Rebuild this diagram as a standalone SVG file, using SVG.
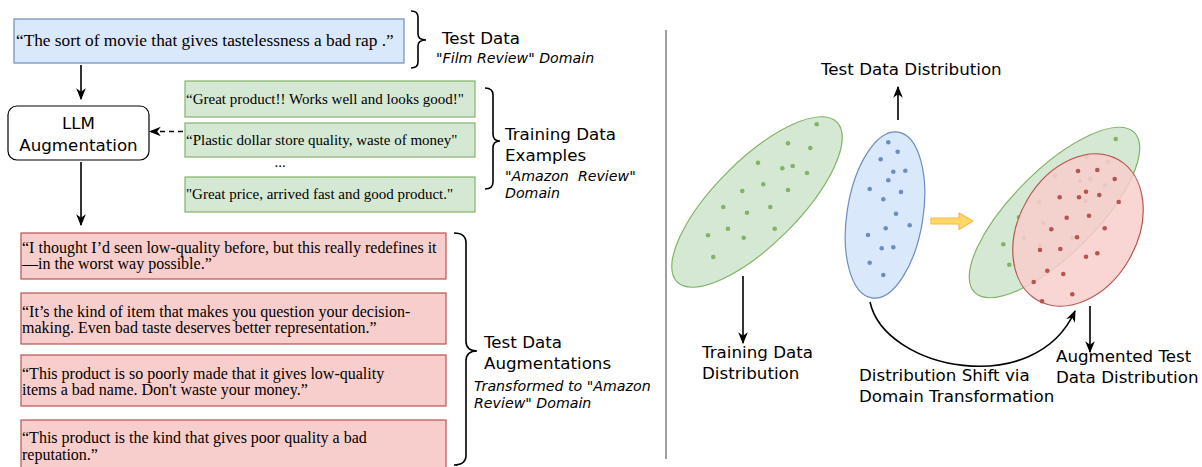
<svg xmlns="http://www.w3.org/2000/svg" width="1202" height="467" viewBox="0 0 1202 467">
  <style>
    .serif { font-family: "Liberation Serif", "Times New Roman", serif; fill: #000; }
    .sans { font-family: "DejaVu Sans", Verdana, sans-serif; fill: #000; font-size: 16.7px; }
    .ital { font-family: "DejaVu Sans", Verdana, sans-serif; font-style: italic; font-size: 14.2px; fill: #000; }
    .blue { fill: #dae8fc; stroke: #6c8ebf; stroke-width: 1.2; }
    .green { fill: #d5e8d4; stroke: #82b366; stroke-width: 1.2; }
    .red { fill: #f8cecc; stroke: #b85450; stroke-width: 1.2; }
    .edge { fill: none; stroke: #000; stroke-width: 1.6; }
    .brace { fill: none; stroke: #000; stroke-width: 1.6; }
    .gdot { fill: #82b366; }
    .bdot { fill: #6c8ebf; }
    .rdot { fill: #b85450; }
  </style>
  <defs>
    <marker id="arrow" markerUnits="userSpaceOnUse" markerWidth="12" markerHeight="12" viewBox="0 0 10 10" refX="9" refY="5" orient="auto">
      <path d="M0,1 L10,5 L0,9 L3,5 z" fill="#000"/>
    </marker>
  </defs>

  <!-- left panel: pipeline -->
  <g id="test-sample">
    <rect class="blue" x="14" y="19" width="390" height="44"/>
    <text class="serif" x="16" y="46" font-size="17.3">“The sort of movie that gives tastelessness a bad rap .”</text>
  </g>
  <g id="test-brace">
    <path class="brace" d="M411,11 Q418,11 418,17 L418,34 Q418,40 426,40 Q418,40 418,46 L418,62 Q418,68 411,68"/>
    <text class="sans" x="442" y="44">Test Data</text>
    <text class="ital" x="436" y="63">"Film Review" Domain</text>
  </g>

  <g id="llm">
    <rect x="8" y="106" width="141" height="54" rx="9" fill="#fff" stroke="#000" stroke-width="1.2"/>
    <text class="sans" x="78.5" y="129" font-size="17.5" text-anchor="middle">LLM</text>
    <text class="sans" x="78.5" y="151" font-size="17.5" text-anchor="middle">Augmentation</text>
  </g>

  <g id="train-examples">
    <rect class="green" x="185" y="81" width="290" height="36"/>
    <text class="serif" x="186" y="104" font-size="15">“Great product!! Works well and looks good!"</text>
    <rect class="green" x="185" y="123" width="290" height="34"/>
    <text class="serif" x="186" y="145" font-size="15">“Plastic dollar store quality, waste of money"</text>
    <text class="serif" x="280" y="167" font-size="15" text-anchor="middle">...</text>
    <rect class="green" x="185" y="177" width="290" height="35"/>
    <text class="serif" x="186" y="199" font-size="15">"Great price, arrived fast and good product."</text>
  </g>
  <g id="train-brace">
    <path class="brace" d="M485,88 Q493,88 493,95 L493,134 Q493,141 500,141 Q493,141 493,148 L493,182 Q493,189 485,189"/>
    <text class="sans" x="505" y="140">Training Data</text>
    <text class="sans" x="505" y="161">Examples</text>
    <text class="ital" x="505" y="181" xml:space="preserve">"Amazon  Review"</text>
    <text class="ital" x="505" y="198">Domain</text>
  </g>

  <g id="augmentations">
    <rect class="red" x="21" y="233" width="425" height="46"/>
    <text class="serif" x="22" y="253" font-size="16">“I thought I’d seen low-quality before, but this really redefines it</text>
    <text class="serif" x="22" y="269" font-size="16">—in the worst way possible.”</text>
    <rect class="red" x="21" y="293" width="425" height="51"/>
    <text class="serif" x="22" y="316.5" font-size="16">“It’s the kind of item that makes you question your decision-</text>
    <text class="serif" x="22" y="333" font-size="16">making. Even bad taste deserves better representation.”</text>
    <rect class="red" x="21" y="355" width="425" height="51"/>
    <text class="serif" x="22" y="378.5" font-size="16">“This product is so poorly made that it gives low-quality</text>
    <text class="serif" x="22" y="395" font-size="16">items a bad name. Don't waste your money.”</text>
    <rect class="red" x="21" y="420" width="425" height="52"/>
    <text class="serif" x="22" y="443" font-size="16">“This product is the kind that gives poor quality a bad</text>
    <text class="serif" x="22" y="459.5" font-size="16">reputation.”</text>
  </g>
  <g id="aug-brace">
    <path class="brace" d="M454,233 Q466,233 466,243 L466,341 Q466,351 477,351 Q466,351 466,361 L466,455 Q466,465 454,465"/>
    <text class="sans" x="484" y="348">Test Data</text>
    <text class="sans" x="484" y="369">Augmentations</text>
    <text class="ital" x="474" y="391">Transformed to "Amazon</text>
    <text class="ital" x="474" y="408">Review" Domain</text>
  </g>

  <!-- separator -->
  <line x1="666" y1="30" x2="666" y2="459" stroke="#a0a0a0" stroke-width="2"/>

  <!-- right panel: distributions -->
  <g id="train-dist">
    <ellipse class="green" cx="757" cy="202" rx="113" ry="42" transform="rotate(-45 757 202)"/>
    <g class="gdot">
      <circle cx="816.7" cy="124.3" r="2.3"/><circle cx="788" cy="143.3" r="2.3"/>
      <circle cx="810.3" cy="148" r="2.3"/><circle cx="758" cy="162.7" r="2.3"/>
      <circle cx="782.3" cy="168.3" r="2.3"/><circle cx="792.7" cy="166" r="2.3"/>
      <circle cx="807" cy="173" r="2.3"/><circle cx="763.3" cy="184.3" r="2.3"/>
      <circle cx="742.3" cy="191" r="2.3"/><circle cx="788" cy="190" r="2.3"/>
      <circle cx="723.3" cy="207" r="2.3"/><circle cx="747" cy="212.7" r="2.3"/>
      <circle cx="770.3" cy="207" r="2.3"/><circle cx="708" cy="235.3" r="2.3"/>
      <circle cx="728" cy="228.7" r="2.3"/><circle cx="743.7" cy="237.7" r="2.3"/>
      <circle cx="774.7" cy="228.7" r="2.3"/><circle cx="713.3" cy="257" r="2.3"/>
    </g>
    <text class="sans" x="702" y="358">Training Data</text>
    <text class="sans" x="702" y="379">Distribution</text>
  </g>

  <g id="test-dist">
    <ellipse class="blue" cx="885" cy="215" rx="38" ry="84" transform="rotate(9 885 215)"/>
    <g class="bdot">
      <circle cx="888.3" cy="142.3" r="2.3"/><circle cx="897.7" cy="151.7" r="2.3"/>
      <circle cx="880.7" cy="159.3" r="2.3"/><circle cx="893.3" cy="171.7" r="2.3"/>
      <circle cx="905.3" cy="170.7" r="2.3"/><circle cx="888.3" cy="180.3" r="2.3"/>
      <circle cx="869.7" cy="189" r="2.3"/><circle cx="901" cy="192" r="2.3"/>
      <circle cx="883.3" cy="199.3" r="2.3"/><circle cx="896" cy="213.7" r="2.3"/>
      <circle cx="909.7" cy="225.3" r="2.3"/><circle cx="885.7" cy="228.3" r="2.3"/>
      <circle cx="868" cy="235" r="2.3"/><circle cx="881.7" cy="248.3" r="2.3"/>
      <circle cx="893.3" cy="247.3" r="2.3"/><circle cx="869.7" cy="262.7" r="2.3"/>
      <circle cx="883.3" cy="275" r="2.3"/>
    </g>
    <text class="sans" x="821" y="75">Test Data Distribution</text>
  </g>

  <g id="shift-arrow">
    <path d="M931,218 L959,218 L959,213 L973,221 L959,229.5 L959,224 L931,224 z" fill="#ffd966" stroke="#f7b955" stroke-width="1.2" stroke-linejoin="round"/>
  </g>

  <g id="aug-dist">
    <ellipse class="green" cx="1054.5" cy="212.5" rx="113" ry="42" transform="rotate(-45 1054.5 212.5)"/>
    <g class="gdot">
      <circle cx="1115.7" cy="139" r="2.3"/><circle cx="1019" cy="217.3" r="2.3"/>
      <circle cx="1003.3" cy="244.3" r="2.3"/><circle cx="1009.3" cy="264.7" r="2.3"/>
      <circle cx="1086.3" cy="157.3" r="2.3"/><circle cx="1108.3" cy="161.7" r="2.3"/>
      <circle cx="1055" cy="175.7" r="2.3"/><circle cx="1080" cy="181" r="2.3"/>
      <circle cx="1090.3" cy="179" r="2.3"/><circle cx="1105" cy="185.3" r="2.3"/>
      <circle cx="1085.7" cy="201.3" r="2.3"/><circle cx="1039" cy="202.3" r="2.3"/>
      <circle cx="1043.3" cy="223.3" r="2.3"/><circle cx="1024" cy="238" r="2.3"/>
      <circle cx="1072" cy="238" r="2.3"/><circle cx="1040" cy="245.7" r="2.3"/>
    </g>
    <ellipse cx="1078" cy="230" rx="59" ry="81" transform="rotate(30 1078 230)" fill="#f8cecc" fill-opacity="0.85" stroke="#b85450" stroke-width="1.2"/>
    <g class="rdot">
      <circle cx="1078" cy="171" r="2.3"/><circle cx="1097.3" cy="170" r="2.3"/>
      <circle cx="1114.7" cy="179" r="2.3"/><circle cx="1086" cy="191.7" r="2.3"/>
      <circle cx="1059.7" cy="197.3" r="2.3"/><circle cx="1079" cy="197.3" r="2.3"/>
      <circle cx="1099.3" cy="195" r="2.3"/><circle cx="1118.7" cy="202" r="2.3"/>
      <circle cx="1089" cy="215.7" r="2.3"/><circle cx="1066.7" cy="217.7" r="2.3"/>
      <circle cx="1051.3" cy="229.3" r="2.3"/><circle cx="1104.7" cy="228.3" r="2.3"/>
      <circle cx="1077" cy="237.3" r="2.3"/><circle cx="1040" cy="250" r="2.3"/>
      <circle cx="1060.3" cy="249" r="2.3"/><circle cx="1086" cy="256.7" r="2.3"/>
      <circle cx="1097.3" cy="253.3" r="2.3"/><circle cx="1047.3" cy="270.7" r="2.3"/>
      <circle cx="1063.3" cy="274" r="2.3"/><circle cx="1033.7" cy="282" r="2.3"/>
      <circle cx="1072.3" cy="294.3" r="2.3"/><circle cx="1042" cy="301.3" r="2.3"/>
    </g>
    <text class="sans" x="1056" y="362">Augmented Test</text>
    <text class="sans" x="1056" y="383">Data Distribution</text>
  </g>

  <text class="sans" x="859" y="381">Distribution Shift via</text>
  <text class="sans" x="859" y="402">Domain Transformation</text>

  <!-- connectors -->
  <g id="connectors">
    <line class="edge" x1="81" y1="65" x2="81" y2="99" marker-end="url(#arrow)"/>
    <line class="edge" x1="183" y1="131.5" x2="150" y2="131.5" stroke-dasharray="5 4" marker-end="url(#arrow)"/>
    <line class="edge" x1="81" y1="162" x2="81" y2="225" marker-end="url(#arrow)"/>
    <line class="edge" x1="898" y1="120" x2="898" y2="87" marker-end="url(#arrow)"/>
    <line class="edge" x1="743" y1="276" x2="743" y2="343" marker-end="url(#arrow)"/>
    <line class="edge" x1="1090" y1="306" x2="1090" y2="352" marker-end="url(#arrow)"/>
    <path class="edge" d="M870,302 C885,370 1035,400 1075,311" marker-end="url(#arrow)"/>
  </g>
</svg>
